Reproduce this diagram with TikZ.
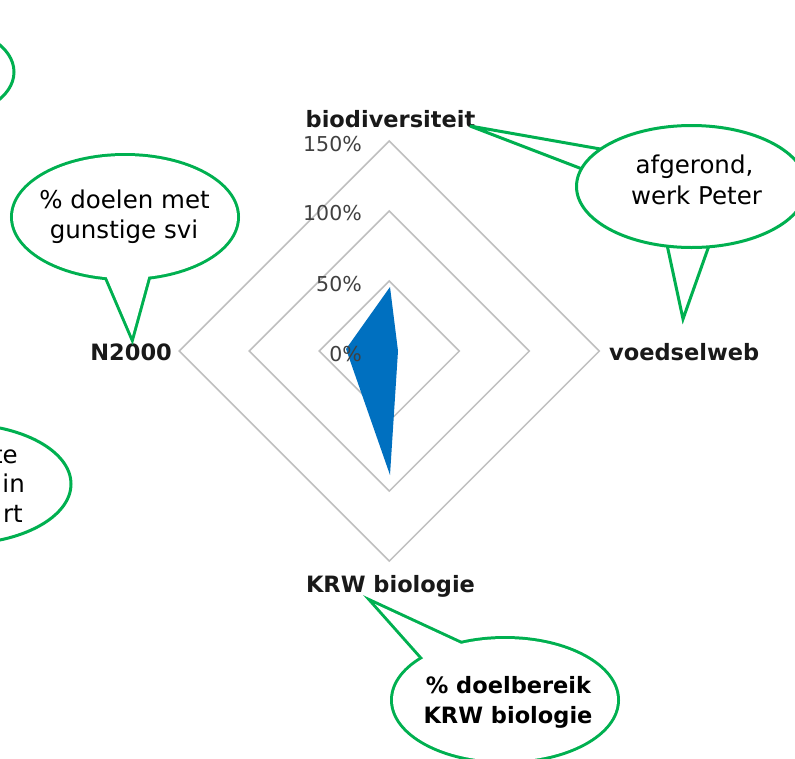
\documentclass[tikz,border=0pt]{standalone}
\usepackage{fontspec}
\setmainfont{DejaVu Sans}
\definecolor{cgreen}{HTML}{00B050}
\definecolor{cblue}{HTML}{0070C0}
\definecolor{gridgray}{HTML}{BFBFBF}
\definecolor{ticktext}{HTML}{404040}
\begin{document}
\begin{tikzpicture}[x=1pt,y=-1pt,
  gridline/.style={draw=gridgray,line width=1.5pt},
  datafill/.style={fill=cblue},
  ticklabel/.style={inner sep=0pt,text=ticktext,font=\fontsize{20.5}{24}\selectfont},
  axislabel/.style={inner sep=0pt,text=black!90,font=\fontsize{22.5}{27}\selectfont\bfseries},
  calltext/.style={inner sep=0pt,text=black,font=\fontsize{24.5}{29}\selectfont},
  callbold/.style={inner sep=0pt,text=black,font=\fontsize{22.5}{27}\selectfont\bfseries},
  bubble/.style={draw=cgreen,line width=3pt,fill=white},
  bubbleouter/.style={draw=cgreen,line width=6pt,line join=miter},
  tailline/.style={draw=cgreen,line width=3pt,line join=miter}]
\useasboundingbox (0,0) rectangle (795,758);
\fill[white] (0,0) rectangle (795,758);

% radar grid: rings at 50%, 100% and 150%
\coordinate (c) at (389.3,351);
\foreach \r in {70,140,210}
  \draw[gridline] (389.3,351-\r) -- (389.3+\r,351) -- (389.3,351+\r) -- (389.3-\r,351) -- cycle;

% data series
\fill[datafill] (390,287) -- (398,351) -- (390,475) -- (346,349) -- cycle;

% scale labels
\node[ticklabel,anchor=base east] (t150) at (362,151.7) {150\%};
\node[ticklabel,anchor=base east] (t100) at (362,220.5) {100\%};
\node[ticklabel,anchor=base east] (t50)  at (362,291.5) {50\%};
\node[ticklabel,anchor=base east] (t0)   at (362,361.5) {0\%};

% axis labels
\node[axislabel,anchor=base] (bio) at (390.5,127) {biodiversiteit};
\node[axislabel,anchor=base west] (voedsel) at (609,360) {voedselweb};
\node[axislabel,anchor=base east] (n2000) at (172,360) {N2000};
\node[axislabel,anchor=base] (krw) at (390.5,592) {KRW biologie};

% partial bubbles at the left border
\draw[bubble] (-60,72) ellipse [x radius=74pt, y radius=46pt];
\draw[bubble] (-40,484) ellipse [x radius=111pt, y radius=60pt];
\node[calltext,anchor=base east] (lt1) at (18,463) {te};
\node[calltext,anchor=base east] (lt2) at (25,492) {in};
\node[calltext,anchor=base east] (lt3) at (23,522) {rt};

% bubble: % doelen met gunstige svi (outline of ellipse and tail as one shape)
\coordinate (tipA) at (132,336);
\draw[bubbleouter] (97,254.4) -- (tipA) -- (154.4,254.4);
\draw[bubbleouter] (125,217) ellipse [x radius=112pt, y radius=61pt];
\fill[white] (125,217) ellipse [x radius=112pt, y radius=61pt];
\fill[white] (97,254.4) -- (tipA) -- (154.4,254.4) -- cycle;
\node[calltext,anchor=base] (bA1) at (124.5,208.5) {\% doelen met};
\node[calltext,anchor=base] (bA2) at (124,238) {gunstige svi};

% bubble: % doelbereik KRW biologie
\coordinate (tipC) at (375,604);
\draw[bubbleouter] (447,685) -- (tipC) -- (498,661);
\draw[bubbleouter] (505,700) ellipse [x radius=112pt, y radius=61pt];
\fill[white] (505,700) ellipse [x radius=112pt, y radius=61pt];
\fill[white] (447,685) -- (tipC) -- (498,661) -- cycle;
\node[callbold,anchor=base] (bC1) at (508.5,693) {\% doelbereik};
\node[callbold,anchor=base] (bC2) at (508,723) {KRW biologie};

% bubble: afgerond, werk Peter (two pointers, ellipse on top)
\coordinate (tipB1) at (470,126);
\coordinate (tipB2) at (683,319);
\draw[tailline] (606,150) -- (tipB1) -- (590,172);
\draw[tailline] (666,240) -- (tipB2) -- (711,240);
\draw[bubble] (691.5,186.5) ellipse [x radius=115pt, y radius=61pt];
\node[calltext,anchor=base] (bB1) at (694.5,173.5) {afgerond,};
\node[calltext,anchor=base] (bB2) at (696.5,204) {werk Peter};
\end{tikzpicture}
\end{document}
